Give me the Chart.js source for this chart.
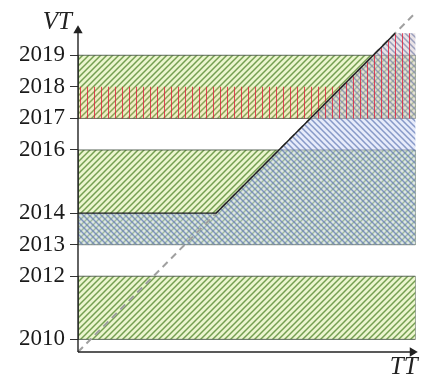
<!DOCTYPE html>
<html>
<head>
<meta charset="utf-8">
<script src="https://cdn.jsdelivr.net/npm/chart.js@4/dist/chart.umd.min.js"></script>
<style>
  body { margin: 0; background: #fff; }
  #wrap { width: 421px; height: 376px; }
</style>
</head>
<body>
<div id="wrap"><canvas id="bitemporalChart"></canvas></div>
<script>
// both axes are in years, same scale
const origin = 2009.6;
const ttEnd = 2020.35;
const vtEnd = 2020.58;
const topVT = 2019.7;

const vtTicks = [2010, 2012, 2013, 2014, 2016, 2017, 2018, 2019];

// green facts, valid over the whole transaction time
const greenBands = [[2010, 2012], [2013, 2016], [2017, 2019]];
// blue fact starts at 2013, upper edge follows the staircase
const blueFrom = 2013;
const blueStep = 2014;
// red fact 2017-2018, later extended up along the diagonal
const redFrom = 2017;
const redStep = 2018;

function hatch(size, bg, stroke, width, draw) {
    const c = document.createElement("canvas");
    c.width = size;
    c.height = size;
    const g = c.getContext("2d");
    g.fillStyle = bg;
    g.fillRect(0, 0, size, size);
    g.strokeStyle = stroke;
    g.lineWidth = width;
    g.beginPath();
    draw(g, size);
    g.stroke();
    return g.createPattern(c, "repeat");
}

const slash = (g, s) => {
    g.moveTo(0, s); g.lineTo(s, 0);
    g.moveTo(-1, 1); g.lineTo(1, -1);
    g.moveTo(s - 1, s + 1); g.lineTo(s + 1, s - 1);
};
const backslash = (g, s) => {
    g.moveTo(0, 0); g.lineTo(s, s);
    g.moveTo(s - 1, -1); g.lineTo(s + 1, 1);
    g.moveTo(-1, s - 1); g.lineTo(1, s + 1);
};
const vertical = (g, s) => {
    g.moveTo(s / 2, 0); g.lineTo(s / 2, s);
};

const greenFill = hatch(6, "rgba(228,242,190,0.75)", "rgba(95,145,60,0.85)", 1.5, slash);
const blueFill = hatch(6, "rgba(205,215,245,0.5)", "rgba(95,118,180,0.7)", 1.5, backslash);
const redFill = hatch(7, "rgba(255,185,120,0.15)", "rgba(222,30,60,0.8)", 1, vertical);

function rect(a, b) {
    return [
        { x: origin, y: a }, { x: ttEnd, y: a },
        { x: ttEnd, y: b }, { x: origin, y: b }, { x: origin, y: a },
    ];
}

// region between "from" and the staircase (flat at step, then VT = TT)
function stair(from, step) {
    return [
        { x: origin, y: from }, { x: ttEnd, y: from }, { x: ttEnd, y: topVT },
        { x: topVT, y: topVT }, { x: step, y: step }, { x: origin, y: step },
        { x: origin, y: from },
    ];
}

const datasets = [];

greenBands.forEach((b) => {
    datasets.push({
        data: rect(b[0], b[1]),
        fill: "shape",
        backgroundColor: greenFill,
        borderColor: "rgba(55,70,55,0.8)",
        borderWidth: 1,
        order: 6,
    });
});

datasets.push({
    data: stair(blueFrom, blueStep),
    fill: "shape",
    backgroundColor: blueFill,
    borderColor: "transparent",
    borderWidth: 0.01,
    order: 5,
});

datasets.push({
    data: stair(redFrom, redStep),
    fill: "shape",
    backgroundColor: redFill,
    borderColor: "transparent",
    borderWidth: 0.01,
    order: 4,
});

// VT = TT
datasets.push({
    data: [{ x: origin, y: origin }, { x: 2020.3, y: 2020.3 }],
    borderColor: "#a0a0a0",
    borderWidth: 2,
    borderDash: [7, 5],
    clip: false,
    order: 3,
});

// staircase
datasets.push({
    data: [{ x: origin, y: blueStep }, { x: blueStep, y: blueStep }, { x: topVT, y: topVT }],
    borderColor: "#1e1e1e",
    borderWidth: 1.4,
    order: 2,
});

// axes with arrow heads
datasets.push({
    data: [{ x: origin, y: origin }, { x: origin, y: 2019.78 }],
    borderColor: "#222",
    borderWidth: 1.4,
    pointRadius: [0, 4],
    pointStyle: "triangle",
    pointBackgroundColor: "#222",
    pointBorderColor: "#222",
    clip: false,
    order: 1,
});
datasets.push({
    data: [{ x: origin, y: origin }, { x: 2020.25, y: origin }],
    borderColor: "#222",
    borderWidth: 1.4,
    pointRadius: [0, 4],
    pointStyle: "triangle",
    pointRotation: 90,
    pointBackgroundColor: "#222",
    pointBorderColor: "#222",
    clip: false,
    order: 1,
});

const axisNames = {
    id: "axisNames",
    afterDraw(chart) {
        const { ctx, chartArea, scales } = chart;
        ctx.save();
        ctx.font = 'italic 25px "Liberation Serif"';
        ctx.fillStyle = "#222";
        ctx.textAlign = "right";
        ctx.fillText("VT", chartArea.left - 6, scales.y.getPixelForValue(topVT) - 4);
        ctx.fillText("TT", chartArea.right + 2, chartArea.bottom + 22);
        ctx.restore();
    },
};

new Chart(document.getElementById("bitemporalChart"), {
    type: "line",
    data: { datasets: datasets },
    options: {
        responsive: true,
        maintainAspectRatio: false,
        animation: false,
        events: [],
        elements: {
            point: { radius: 0, hitRadius: 0 },
            line: { tension: 0 },
        },
        layout: { padding: { top: 5, right: 3, bottom: 24, left: 0 } },
        scales: {
            x: {
                type: "linear",
                min: origin,
                max: ttEnd,
                display: false,
            },
            y: {
                type: "linear",
                min: origin,
                max: vtEnd,
                afterFit: (scale) => {
                    scale.width = 78;
                    scale.paddingTop = 0;
                    scale.paddingBottom = 0;
                },
                afterBuildTicks: (scale) => {
                    scale.ticks = vtTicks.map((v) => ({ value: v }));
                },
                border: { display: false },
                grid: {
                    drawOnChartArea: false,
                    drawTicks: true,
                    tickLength: 8,
                    color: "#333",
                },
                ticks: {
                    autoSkip: false,
                    padding: 5,
                    color: "#1a1a1a",
                    font: { family: "Liberation Serif", size: 23 },
                    callback: (v) => String(v),
                },
            },
        },
        plugins: {
            legend: { display: false },
            tooltip: { enabled: false },
        },
    },
    plugins: [axisNames],
});
</script>
</body>
</html>
